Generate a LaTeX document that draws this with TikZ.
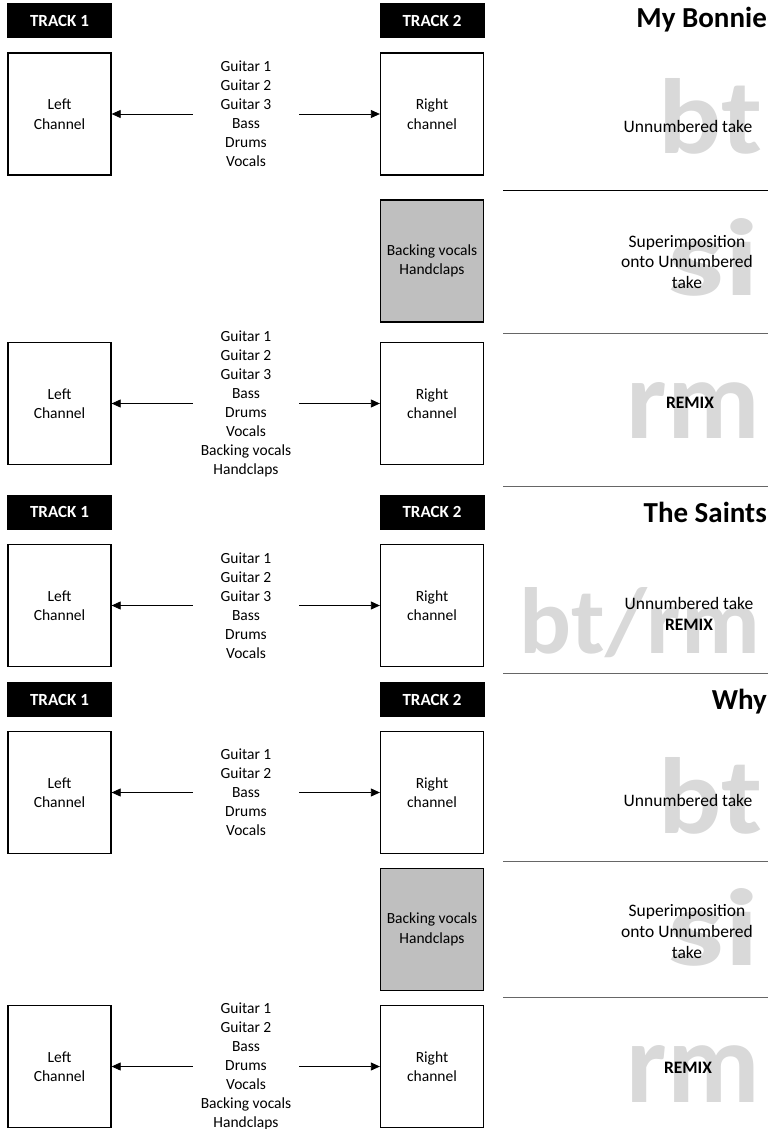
\documentclass[tikz,border=0pt]{standalone}
\usepackage{fontspec}
\setmainfont{Carlito}
\usepackage{graphicx}
\usetikzlibrary{arrows.meta}

\begin{document}
\begin{tikzpicture}[x=1pt,y=-1pt,
    chan/.style={draw,line width=1.3pt,minimum width=103pt,minimum height=122pt,inner sep=0pt,align=center,font=\fontsize{15.5}{19.5}\selectfont},
    trk/.style={fill=black,text=white,minimum width=105pt,minimum height=35pt,inner sep=0pt,font=\fontsize{17}{20}\selectfont\bfseries},
    inst/.style={minimum width=106pt,inner sep=0pt,align=center,font=\fontsize{15.5}{19}\selectfont},
    take/.style={align=center,font=\fontsize{17.5}{20.7}\selectfont},
    song/.style={anchor=east,inner sep=0pt,font=\fontsize{29}{31}\selectfont\bfseries},
    wmark/.style={anchor=base east,inner sep=0pt,text=black!15,font=\bfseries},
    divider/.style={black!60,line width=1pt},
    feed/.style={-{Triangle[length=9pt,width=8pt]},line width=0.8pt}]
        \useasboundingbox (0,0) rectangle (774,1129);
        \node[wmark] (wmA) at (763,153) {\resizebox{104pt}{75pt}{bt}};
        \node[trk] (trA1) at (59.5,20.5) {TRACK 1};
        \node[trk] (trA2) at (432,20.5) {TRACK 2};
        \node[song] (songA) at (767,20) {My Bonnie};
        \node[chan] (leftA) at (59.5,114) {Left\\Channel};
        \node[chan] (rightA) at (432,114) {Right\\channel};
        \node[inst] (instA) at (246,114) {Guitar 1\\Guitar 2\\Guitar 3\\Bass\\Drums\\Vocals};
        \draw[feed] (instA.west) -- (leftA.east);
        \draw[feed] (instA.east) -- (rightA.west);
        \node[take] (takeA) at (688,126) {Unnumbered take};
        \draw[divider,black] (503,190) -- (768,190);
        \node[wmark] (wmB) at (760,295) {\resizebox{92pt}{77pt}{si}};
        \node[chan,fill=black!25] (addB) at (432,261) {Backing vocals\\Handclaps};
        \node[take] (takeB) at (687,262) {Superimposition\\onto Unnumbered\\take};
        \draw[divider] (503,333) -- (768,333);
        \node[wmark] (wmC) at (760,438) {\resizebox{133pt}{56pt}{rm}};
        \node[chan] (leftC) at (59.5,403.5) {Left\\Channel};
        \node[chan] (rightC) at (432,403.5) {Right\\channel};
        \node[inst] (instC) at (246,403.5) {Guitar 1\\Guitar 2\\Guitar 3\\Bass\\Drums\\Vocals\\Backing vocals\\Handclaps};
        \draw[feed] (instC.west) -- (leftC.east);
        \draw[feed] (instC.east) -- (rightC.west);
        \node[take,font=\fontsize{17.5}{20.7}\selectfont\bfseries] (takeC) at (690,403) {REMIX};
        \draw[divider] (503,486) -- (768,486);
        \node[wmark] (wmD) at (760,653) {\resizebox{240pt}{66pt}{bt/rm}};
        \node[trk] (trD1) at (59.5,512) {TRACK 1};
        \node[trk] (trD2) at (432,512) {TRACK 2};
        \node[song] (songD) at (767,512) {The Saints};
        \node[chan] (leftD) at (59.5,605.5) {Left\\Channel};
        \node[chan] (rightD) at (432,605.5) {Right\\channel};
        \node[inst] (instD) at (246,605.5) {Guitar 1\\Guitar 2\\Guitar 3\\Bass\\Drums\\Vocals};
        \draw[feed] (instD.west) -- (leftD.east);
        \draw[feed] (instD.east) -- (rightD.west);
        \node[take] (takeD) at (689,614) {Unnumbered take\\\textbf{REMIX}};
        \draw[divider] (503,673) -- (768,673);
        \node[wmark] (wmE) at (763,833) {\resizebox{104pt}{76pt}{bt}};
        \node[trk] (trE1) at (59.5,699.5) {TRACK 1};
        \node[trk] (trE2) at (432,699.5) {TRACK 2};
        \node[song] (songE) at (767,702) {Why};
        \node[chan] (leftE) at (59.5,792.5) {Left\\Channel};
        \node[chan] (rightE) at (432,792.5) {Right\\channel};
        \node[inst] (instE) at (246,792.5) {Guitar 1\\Guitar 2\\Bass\\Drums\\Vocals};
        \draw[feed] (instE.west) -- (leftE.east);
        \draw[feed] (instE.east) -- (rightE.west);
        \node[take] (takeE) at (688,800) {Unnumbered take};
        \draw[divider] (503,861) -- (768,861);
        \node[wmark] (wmF) at (760,965) {\resizebox{92pt}{77pt}{si}};
        \node[chan,fill=black!25] (addF) at (432,929.5) {Backing vocals\\Handclaps};
        \node[take] (takeF) at (687,931.5) {Superimposition\\onto Unnumbered\\take};
        \draw[divider] (503,997) -- (768,997);
        \node[wmark] (wmG) at (760,1102) {\resizebox{133pt}{57pt}{rm}};
        \node[chan] (leftG) at (59.5,1066.5) {Left\\Channel};
        \node[chan] (rightG) at (432,1066.5) {Right\\channel};
        \node[inst] (instG) at (246,1066.5) {Guitar 1\\Guitar 2\\Bass\\Drums\\Vocals\\Backing vocals\\Handclaps};
        \draw[feed] (instG.west) -- (leftG.east);
        \draw[feed] (instG.east) -- (rightG.west);
        \node[take,font=\fontsize{17.5}{20.7}\selectfont\bfseries] (takeG) at (688,1068) {REMIX};
    \end{tikzpicture}
\end{document}
